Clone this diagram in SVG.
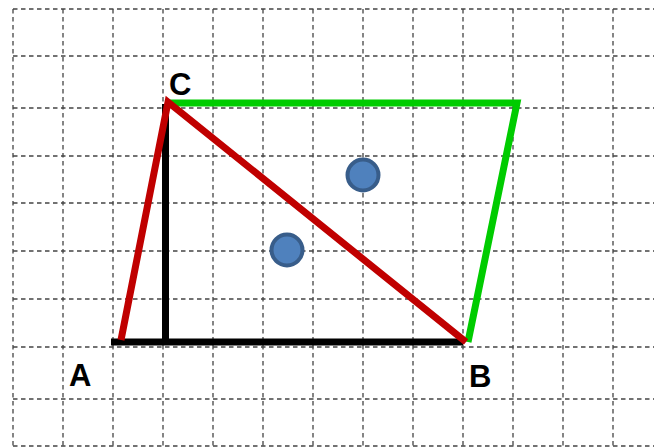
<svg xmlns="http://www.w3.org/2000/svg" width="656" height="447" viewBox="0 0 656 447">
<style>
.grid line{stroke:#444;stroke-width:1.3;stroke-dasharray:4.5,3.5}
.lbl{font-family:"Liberation Sans",Arial,sans-serif;font-weight:bold;font-size:31px;fill:#000}
.seg{stroke-width:7;stroke-linecap:butt;stroke-linejoin:miter;fill:none}
.dot{fill:#4f81bd;stroke:#385d8a;stroke-width:4}
</style>
<rect width="656" height="447" fill="#fff"/>
<g class="grid">
<line x1="13" y1="9" x2="654" y2="9"/>
<line x1="13" y1="56" x2="654" y2="56"/>
<line x1="13" y1="108" x2="654" y2="108"/>
<line x1="13" y1="156" x2="654" y2="156"/>
<line x1="13" y1="203" x2="654" y2="203"/>
<line x1="13" y1="251" x2="654" y2="251"/>
<line x1="13" y1="299" x2="654" y2="299"/>
<line x1="13" y1="347" x2="654" y2="347"/>
<line x1="13" y1="399" x2="654" y2="399"/>
<line x1="13" y1="446" x2="654" y2="446"/>
<line x1="13" y1="9" x2="13" y2="447"/>
<line x1="63" y1="9" x2="63" y2="447"/>
<line x1="113" y1="9" x2="113" y2="447"/>
<line x1="163" y1="9" x2="163" y2="447"/>
<line x1="213" y1="9" x2="213" y2="447"/>
<line x1="263" y1="9" x2="263" y2="447"/>
<line x1="313" y1="9" x2="313" y2="447"/>
<line x1="363" y1="9" x2="363" y2="447"/>
<line x1="413" y1="9" x2="413" y2="447"/>
<line x1="463" y1="9" x2="463" y2="447"/>
<line x1="513" y1="9" x2="513" y2="447"/>
<line x1="563" y1="9" x2="563" y2="447"/>
<line x1="613" y1="9" x2="613" y2="447"/>
</g>
<g id="connectors">
<line class="seg" x1="165.5" y1="104" x2="165.5" y2="342" stroke="#000" stroke-width="7.5"/>
<line class="seg" x1="111" y1="342" x2="463" y2="342" stroke="#000" stroke-width="8"/>
<polyline class="seg" points="170,103 517,103 468,342" stroke="#00cc00"/>
<polyline class="seg" points="121,340 168,102 466,342" stroke="#c00000" style="stroke-miterlimit:2"/>
</g>
<g id="dot1"><circle class="dot" cx="363" cy="175" r="15.5"/></g>
<g id="dot2"><circle class="dot" cx="287" cy="250" r="15.5"/></g>
<g id="labelC"><text class="lbl" x="169" y="95">C</text></g>
<g id="labelA"><text class="lbl" x="69" y="386">A</text></g>
<g id="labelB"><text class="lbl" x="469" y="387">B</text></g>
</svg>
